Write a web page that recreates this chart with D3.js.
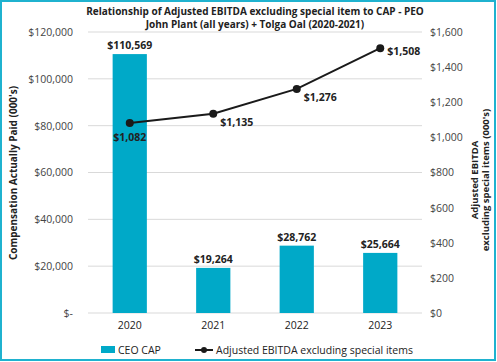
<!DOCTYPE html>
<html><head><meta charset="utf-8">
<script src="https://cdn.jsdelivr.net/npm/d3@7"></script>
<style>body{margin:0;background:#fff}svg{display:block;font-family:"Open Sans",sans-serif}</style>
</head><body><svg id="c" width="497" height="362"></svg>
<script>
const years = ["2020","2021","2022","2023"];
const ceoCap = [110569, 19264, 28762, 25664];
const ebitda = [1082, 1135, 1276, 1508];
const leftTicks = [0,20000,40000,60000,80000,100000,120000];
const rightTicks = [0,200,400,600,800,1000,1200,1400,1600];
const titleLines = ["Relationship of Adjusted EBITDA excluding special item to CAP - PEO","John Plant (all years) + Tolga Oal (2020-2021)"];

const svg = d3.select("#c");
const W=497,H=362;
const teal="#00A9C8";
svg.append("rect").attr("x",1).attr("y",1).attr("width",W-3).attr("height",H-3).attr("fill","none").attr("stroke","#1fb2cf").attr("stroke-width",2);

const x = d3.scaleBand().domain(years).range([88,422]).paddingInner(0.59).paddingOuter(0.295);
const yL = d3.scaleLinear().domain([0,120000]).range([313,32]);
const yR = d3.scaleLinear().domain([0,1600]).range([313,32]);

// gridlines
svg.append("g").selectAll("line").data(leftTicks).join("line")
  .attr("x1",88).attr("x2",422).attr("y1",d=>yL(d)).attr("y2",d=>yL(d))
  .attr("stroke","#d9d9d9").attr("stroke-width",1);

const fmtL = d=> d===0?"$-":"$"+d3.format(",")(d);
const fmtR = d=> "$"+d3.format(",")(d);
const axL = svg.append("g").attr("transform","translate(80,0)").call(d3.axisLeft(yL).tickValues(leftTicks).tickFormat(fmtL).tickSize(0).tickPadding(7));
const axR = svg.append("g").attr("transform","translate(422,0)").call(d3.axisRight(yR).tickValues(rightTicks).tickFormat(fmtR).tickSize(0).tickPadding(8));
const axB = svg.append("g").attr("transform","translate(0,313)").call(d3.axisBottom(x).tickSize(0).tickPadding(9));
[axL,axR,axB].forEach(a=>{a.select(".domain").remove();a.selectAll("text").attr("fill","#444").style("font-size","10.5px").style("font-family","'Open Sans',sans-serif");});
axB.selectAll("text").attr("fill","#222");

// bars
svg.append("g").selectAll("rect").data(ceoCap).join("rect")
  .attr("x",(d,i)=>x(years[i])).attr("width",x.bandwidth())
  .attr("y",d=>yL(d)).attr("height",d=>yL(0)-yL(d)).attr("fill",teal);
svg.append("g").selectAll("text").data(ceoCap).join("text")
  .attr("x",(d,i)=>x(years[i])+x.bandwidth()/2).attr("y",d=>yL(d)-5)
  .attr("text-anchor","middle").attr("font-size","10.5px").attr("font-weight","bold").attr("fill","#222")
  .text(d=>"$"+d3.format(",")(d));

// line
const cx = (i)=>x(years[i])+x.bandwidth()/2;
svg.append("path").datum(ebitda)
  .attr("d",d3.line().x((d,i)=>cx(i)).y(d=>yR(d)))
  .attr("fill","none").attr("stroke","#1a1a1a").attr("stroke-width",2);
svg.append("g").selectAll("circle").data(ebitda).join("circle")
  .attr("cx",(d,i)=>cx(i)).attr("cy",d=>yR(d)).attr("r",4).attr("fill","#1a1a1a");
svg.append("g").selectAll("text").data(ebitda).join("text")
  .attr("x",(d,i)=> i===0? cx(i): cx(i)+7)
  .attr("y",(d,i)=> i===0? yR(d)+18 : (i===3? yR(d)+7 : yR(d)+12))
  .attr("text-anchor",(d,i)=>i===0?"middle":"start")
  .attr("font-size","10.5px").attr("font-weight","bold").attr("fill","#222")
  .text(d=>"$"+d3.format(",")(d));

// title
svg.append("g").selectAll("text").data(titleLines).join("text")
  .attr("x",255).attr("y",(d,i)=>15+i*13).attr("text-anchor","middle")
  .attr("font-size","10px").attr("font-weight","bold").attr("fill","#222").text(d=>d);

// axis titles
svg.append("text").attr("transform","translate(17,173) rotate(-90)").attr("text-anchor","middle")
  .attr("font-size","10px").attr("font-weight","bold").attr("fill","#222").text("Compensation Actually Paid (000's)");
const rt = svg.append("text").attr("transform","translate(478,180) rotate(-90)").attr("text-anchor","middle")
  .attr("font-size","9.5px").attr("font-weight","bold").attr("fill","#222");
rt.append("tspan").attr("x",0).attr("dy",0).text("Adjusted EBITDA");
rt.append("tspan").attr("x",0).attr("dy",11).text("excluding special items (000's)");

// legend
const lg = svg.append("g");
lg.append("rect").attr("x",101).attr("y",346).attr("width",14).attr("height",7).attr("fill",teal);
lg.append("text").attr("x",118).attr("y",354).attr("font-size","10.5px").attr("fill","#222").text("CEO CAP");
lg.append("line").attr("x1",195).attr("x2",213).attr("y1",350).attr("y2",350).attr("stroke","#1a1a1a").attr("stroke-width",2);
lg.append("circle").attr("cx",204).attr("cy",350).attr("r",3).attr("fill","#1a1a1a");
lg.append("text").attr("x",216).attr("y",354).attr("font-size","10.5px").attr("fill","#222").text("Adjusted EBITDA excluding special items");
</script></body></html>
